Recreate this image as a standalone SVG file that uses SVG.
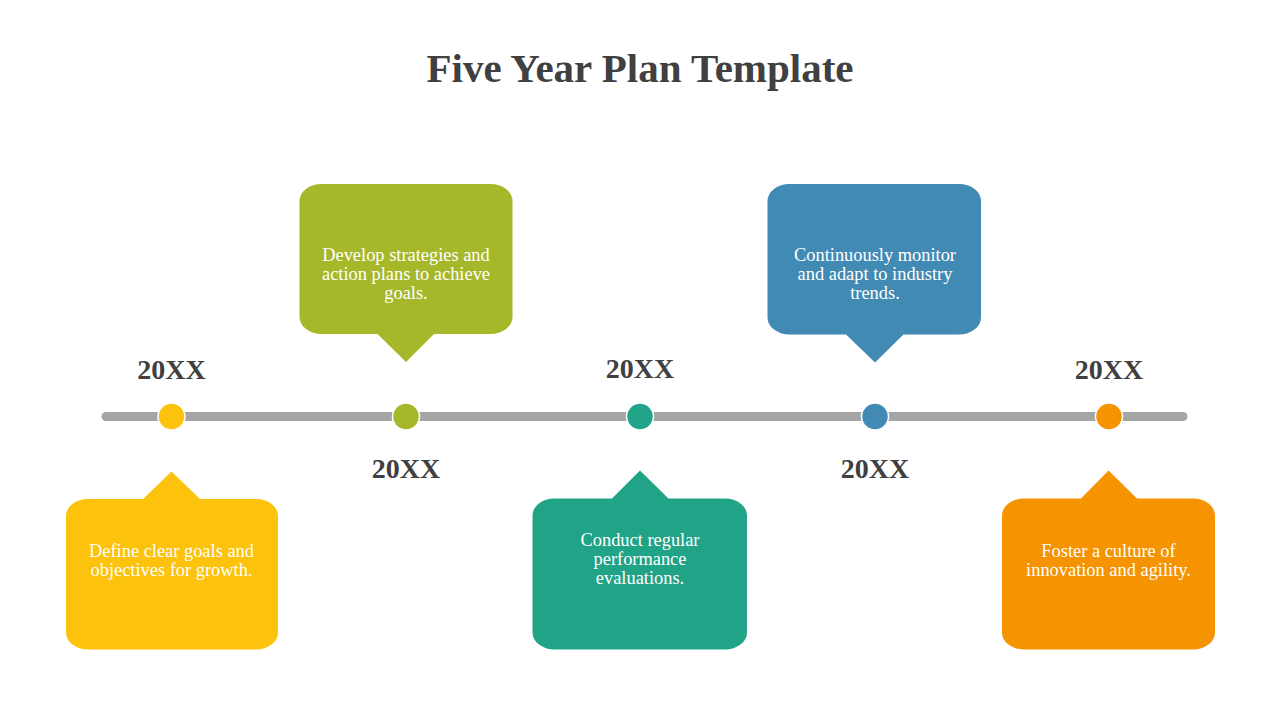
<svg xmlns="http://www.w3.org/2000/svg" width="1280" height="720" viewBox="0 0 1280 720">
  <style>
    .title { font-family: "Liberation Serif", "DejaVu Serif", serif; font-weight: bold; font-size: 41px; fill: #404040; text-anchor: middle; }
    .year { font-family: "Liberation Serif", "DejaVu Serif", serif; font-weight: bold; font-size: 28px; fill: #404040; text-anchor: middle; }
    .desc { font-family: "Liberation Serif", "DejaVu Serif", serif; font-size: 18.4px; fill: #ffffff; text-anchor: middle; }
    .dot { stroke: #ffffff; stroke-width: 1.5; }
  </style>
  <rect width="1280" height="720" fill="#ffffff"/>
  <text class="title" x="640" y="82">Five Year Plan Template</text>

  <g id="connectors">
    <line x1="106" y1="416.5" x2="1183" y2="416.5" stroke="#a5a5a5" stroke-width="9" stroke-linecap="round"/>
  </g>

  <g id="node1">
    <circle class="dot" cx="171.5" cy="416.5" r="13.5" fill="#fdc20b"/>
    <text class="year" x="171.5" y="379">20XX</text>
    <path fill="#fdc20b" d="M88,499 L143,499 L171.5,471.5 L200,499 L256,499 A22 17 0 0 1 278,516 L278,632 A22 17 0 0 1 256,649.5 L88,649.5 A22 17 0 0 1 66,632 L66,516 A22 17 0 0 1 88,499 Z"/>
    <text class="desc" x="171.5" y="556.5">Define clear goals and</text>
    <text class="desc" x="171.5" y="575.5">objectives for growth.</text>
  </g>

  <g id="node2">
    <circle class="dot" cx="406" cy="416.5" r="13.5" fill="#a6b82a"/>
    <text class="year" x="406" y="477.5">20XX</text>
    <path fill="#a6b82a" d="M321.5,184 L490.5,184 A22 17 0 0 1 512.5,201 L512.5,317 A22 17 0 0 1 490.5,334 L434,334 L406,362 L377.5,334 L321.5,334 A22 17 0 0 1 299.5,317 L299.5,201 A22 17 0 0 1 321.5,184 Z"/>
    <text class="desc" x="406" y="260.5">Develop strategies and</text>
    <text class="desc" x="406" y="279.5">action plans to achieve</text>
    <text class="desc" x="406" y="298.5">goals.</text>
  </g>

  <g id="node3">
    <circle class="dot" cx="640" cy="416.5" r="13.5" fill="#20a386"/>
    <text class="year" x="640" y="378">20XX</text>
    <path fill="#20a386" d="M554.5,498.5 L612,498.5 L640,470.5 L668.5,498.5 L725,498.5 A22 17 0 0 1 747,515.5 L747,632 A22 17 0 0 1 725,649.5 L554.5,649.5 A22 17 0 0 1 532.5,632 L532.5,515.5 A22 17 0 0 1 554.5,498.5 Z"/>
    <text class="desc" x="640" y="546">Conduct regular</text>
    <text class="desc" x="640" y="565">performance</text>
    <text class="desc" x="640" y="584">evaluations.</text>
  </g>

  <g id="node4">
    <circle class="dot" cx="875" cy="416.5" r="13.5" fill="#418ab3"/>
    <text class="year" x="875" y="477.5">20XX</text>
    <path fill="#418ab3" d="M789.5,184 L959,184 A22 17 0 0 1 981,201 L981,317 A22 17 0 0 1 959,334.5 L903.5,334.5 L875,362.5 L846,334.5 L789.5,334.5 A22 17 0 0 1 767.5,317 L767.5,201 A22 17 0 0 1 789.5,184 Z"/>
    <text class="desc" x="875" y="260.5">Continuously monitor</text>
    <text class="desc" x="875" y="279.5">and adapt to industry</text>
    <text class="desc" x="875" y="298.5">trends.</text>
  </g>

  <g id="node5">
    <circle class="dot" cx="1109" cy="416.5" r="13.5" fill="#f59300"/>
    <text class="year" x="1109" y="379">20XX</text>
    <path fill="#f59300" d="M1024,498.5 L1081,498.5 L1108.5,470.5 L1137,498.5 L1193,498.5 A22 17 0 0 1 1215,515.5 L1215,632 A22 17 0 0 1 1193,649.5 L1024,649.5 A22 17 0 0 1 1002,632 L1002,515.5 A22 17 0 0 1 1024,498.5 Z"/>
    <text class="desc" x="1108.5" y="556.5">Foster a culture of</text>
    <text class="desc" x="1108.5" y="575.5">innovation and agility.</text>
  </g>
</svg>
